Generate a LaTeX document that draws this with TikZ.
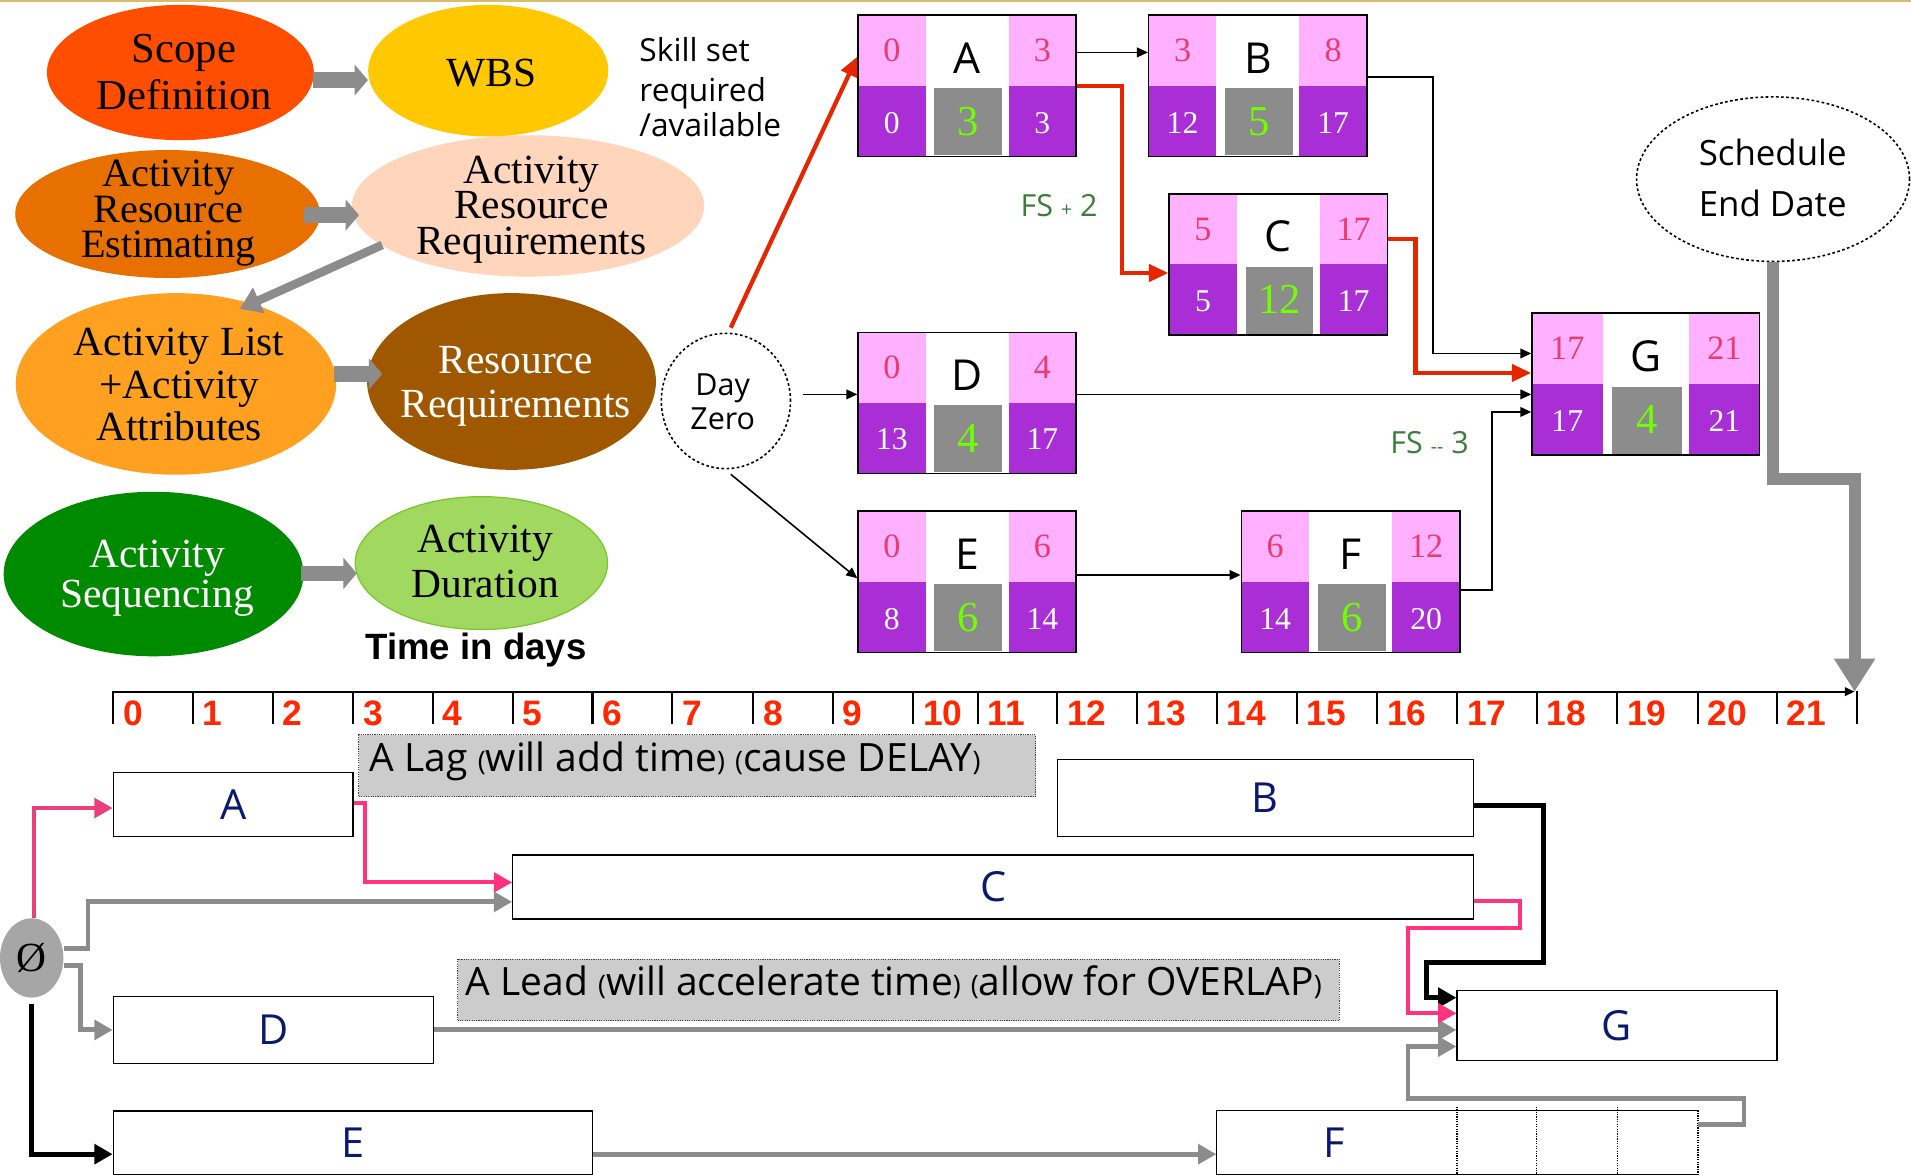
\documentclass[tikz,border=0pt]{standalone}
\usepackage{fontspec}
\setmainfont{Liberation Serif}
\newfontfamily\hsans{Open Sans}
\newfontfamily\asans{Liberation Sans}
\usetikzlibrary{shapes.geometric,arrows.meta,calc}

\newcommand\fsz[2]{\fontsize{#1}{#2}\selectfont\lineskiplimit=-60pt}
\newcommand\smallparen[1]{\raisebox{0.5pt}{\fsz{22}{22}#1}}

\definecolor{scopeC}{RGB}{255,78,0}
\definecolor{wbsC}{RGB}{255,200,0}
\definecolor{areC}{RGB}{232,112,0}
\definecolor{arrC}{RGB}{255,213,187}
\definecolor{alC}{RGB}{255,160,32}
\definecolor{rrC}{RGB}{160,88,0}
\definecolor{asC}{RGB}{0,138,0}
\definecolor{adC}{RGB}{160,216,96}
\definecolor{adEdge}{RGB}{120,200,40}
\definecolor{blockgray}{RGB}{140,140,140}
\definecolor{cellpink}{RGB}{255,176,255}
\definecolor{cellpurple}{RGB}{170,46,214}
\definecolor{numpink}{RGB}{232,60,110}
\definecolor{durgreen}{RGB}{110,255,0}
\definecolor{critred}{RGB}{230,38,0}
\definecolor{fsgreen}{RGB}{60,125,60}
\definecolor{daynum}{RGB}{255,40,0}
\definecolor{lagpink}{RGB}{255,51,128}
\definecolor{startpink}{RGB}{232,64,120}
\definecolor{barnavy}{RGB}{10,25,110}
\definecolor{notegray}{RGB}{204,204,204}
\definecolor{zerogray}{RGB}{166,166,166}
\definecolor{rulegold}{RGB}{214,190,110}

\tikzset{
  bubble/.style={ellipse, inner sep=0pt},
  btext/.style={inner sep=0pt, align=center},
  blockarrow/.style={draw=blockgray, line width=13pt, -{Triangle[length=11pt,width=25pt]}},
  netarrow/.style={draw=black, line width=1.3pt, -{Triangle[length=9pt,width=8pt]}},
  critpath/.style={draw=critred, line width=3.5pt, -{Triangle[length=16pt,width=14pt]}},
  bigarrow/.style={draw=blockgray, line width=10pt, -{Triangle[length=27pt,width=32pt]}},
  esnum/.style={anchor=base, inner sep=0pt, text=numpink, font=\fsz{28}{28}},
  lsnum/.style={anchor=base, inner sep=0pt, text=white, font=\fsz{26}{26}},
  durnum/.style={anchor=base, inner sep=0pt, text=durgreen, font=\fsz{35}{35}},
  actlet/.style={anchor=base, inner sep=0pt, font=\hsans\fsz{35}{35}},
  fslabel/.style={inner sep=0pt, text=fsgreen, font=\hsans\fsz{25}{25}},
  daylabel/.style={anchor=base west, inner sep=0pt, text=daynum, font=\asans\bfseries\fsz{29}{29}},
  bar/.style={draw, line width=1pt, fill=white, inner sep=0pt, text=barnavy, font=\hsans\fsz{34}{34}},
  notebox/.style={fill=notegray, draw=black!75, densely dotted, line width=0.9pt, inner sep=0pt},
  notetext/.style={anchor=base west, inner sep=0pt, font=\hsans\fsz{32}{32}},
  pinkarrow/.style={draw=lagpink, line width=3.3pt, -{Triangle[length=15pt,width=16pt]}},
  grayarrow/.style={draw=blockgray, line width=4pt, -{Triangle[length=15pt,width=16pt]}},
  blackarrow/.style={draw=black, line width=4pt, -{Triangle[length=15pt,width=16pt]}},
}

\begin{document}
\begin{tikzpicture}[x=1pt,y=-1pt,line join=miter]
\useasboundingbox (0,0) rectangle (1568,964);
\fill[white] (0,0) rectangle (1568,964);
\draw[rulegold, line width=1.6pt] (0,0.8) -- (1568,0.8);

% ---------- process bubbles ----------
\node[bubble, fill=scopeC, minimum width=219pt, minimum height=111pt] (scope) at (148,59.5) {};
\node[btext, font=\fsz{35}{39}] (scope-t) at (151,59) {Scope\\Definition};
\node[bubble, fill=wbsC, minimum width=197pt, minimum height=108pt] (wbs) at (400.6,58) {};
\node[btext, font=\fsz{34}{34}] (wbs-t) at (403,60) {WBS};
\node[bubble, fill=areC, minimum width=250pt, minimum height=105pt] (are) at (137.5,175.6) {};
\node[btext, font=\fsz{33}{29}] (are-t) at (138,175) {Activity\\Resource\\Estimating};
\node[bubble, fill=arrC, minimum width=289pt, minimum height=116pt] (arr) at (433.3,169) {};
\node[btext, font=\fsz{34}{29}] (arr-t) at (436,172) {Activity\\Resource\\Requirements};
\node[bubble, fill=alC, minimum width=263pt, minimum height=149pt] (al) at (144.4,315) {};
\node[btext, font=\fsz{34}{35}] (al-t) at (147,315.5) {Activity List\\+Activity\\Attributes};
\node[bubble, fill=rrC, minimum width=237pt, minimum height=145pt] (rr) at (419.7,313) {};
\node[btext, text=white, font=\fsz{34}{35.5}] (rr-t) at (423,317) {Resource\\Requirements};
\node[bubble, fill=asC, minimum width=246pt, minimum height=135pt] (as) at (126,471) {};
\node[btext, text=white, font=\fsz{34}{33}] (as-t) at (129,474.5) {Activity\\Sequencing};
\node[bubble, fill=adC, draw=adEdge, line width=1pt, minimum width=207pt, minimum height=109pt] (ad) at (395,462) {};
\node[btext, font=\fsz{34}{37}] (ad-t) at (398,460.5) {Activity\\Duration};

\draw[blockarrow] ($(scope.east)+(-1,6.2)$) -- ($(wbs.west)+(0,7.7)$);
\draw[blockarrow] ($(are.east)+(-13,0.9)$) -- ($(arr.west)+(6,7.5)$);
\draw[draw=blockgray, line width=7pt, -{Triangle[length=17pt,width=22pt]}] ($(arr.west)+(25,32)$) -- ($(al.north)+(52.4,13.1)$);
\draw[blockarrow] ($(al.east)+(-2,-8.2)$) -- ($(rr.west)+(12.6,-6.2)$);
\draw[blockarrow] ($(as.east)+(-2,-0.5)$) -- ($(ad.west)+(1.8,8.5)$);

\node[anchor=base, inner sep=0pt, font=\asans\bfseries\fsz{30}{30}] (tid) at (390.6,541.5) {Time in days};

\node[anchor=base west, inner sep=0pt, font=\hsans\fsz{26}{26}] (skill1) at (524.5,50.6) {Skill set};
\node[anchor=base west, inner sep=0pt, font=\hsans\fsz{26}{26}] (skill2) at (524.5,83.4) {required};
\node[anchor=base west, inner sep=0pt, font=\hsans\fsz{26}{26}] (skill3) at (524.5,112) {/available};

% ---------- network of activities ----------
\node[ellipse, draw, dash pattern=on 2.2pt off 2pt, line width=1.3pt, minimum width=106pt, minimum height=111pt, inner sep=0pt] (dz) at (595.6,329) {};
\node[btext, font=\hsans\fsz{25}{27.5}] (dz-t) at (593,329.5) {Day\\Zero};
\node[ellipse, draw, dash pattern=on 2.2pt off 2pt, line width=1.3pt, minimum width=224pt, minimum height=135pt, inner sep=0pt] (sed) at (1454.8,147) {};
\node[btext, font=\hsans\fsz{28.6}{42.4}] (sed-t) at (1454.5,146) {Schedule\\End Date};

\foreach \bN/\bXa/\bYa/\bXb/\bYb/\bES/\bLT/\bEF/\bLS/\bDU/\bLF in {
  nA/704/12.3/883/128.5/0/A/3/0/3/3,
  nB/942.5/12.3/1121.7/128.5/3/B/8/12/5/17,
  nC/959.3/159/1138.4/274.8/5/C/17/5/12/17,
  nD/704/272.6/883/388.3/0/D/4/13/4/17,
  nE/704/419.3/883/535.5/0/E/6/8/6/14,
  nF/1018.5/419.3/1198/535.5/6/F/12/14/6/20,
  nG/1257/257/1443.8/373.3/17/G/21/17/4/21}{
  \pgfmathsetmacro\bW{\bXb-\bXa}
  \pgfmathsetmacro\bH{\bYb-\bYa}
  \pgfmathsetmacro\bYm{\bYa+0.5*\bH}
  \pgfmathsetmacro\bXl{\bXa+0.31*\bW}
  \pgfmathsetmacro\bXr{\bXa+0.69*\bW}
  \pgfmathsetmacro\bGl{\bXa+0.35*\bW}
  \pgfmathsetmacro\bGr{\bXa+0.66*\bW}
  \pgfmathsetmacro\bCx{(\bXa+\bXb)/2}
  \pgfmathsetmacro\bCy{(\bYa+\bYb)/2}
  \fill[cellpink] (\bXa,\bYa) rectangle (\bXl,\bYm);
  \fill[cellpink] (\bXr,\bYa) rectangle (\bXb,\bYm);
  \fill[cellpurple] (\bXa,\bYm) rectangle (\bXl,\bYb);
  \fill[cellpurple] (\bXr,\bYm) rectangle (\bXb,\bYb);
  \fill[blockgray] (\bGl,\bYm+2) rectangle (\bGr,\bYb-1);
  \node[draw, line width=1.2pt, inner sep=0pt, minimum width=\bW pt, minimum height=\bH pt] (\bN) at (\bCx,\bCy) {};
  \node[esnum] (\bN-es) at ({(\bXa+\bXl)/2},{\bYa+0.33*\bH}) {\bES};
  \node[actlet] (\bN-id) at (\bCx,{\bYa+0.41*\bH}) {\bLT};
  \node[esnum] (\bN-ef) at ({(\bXr+\bXb)/2},{\bYa+0.33*\bH}) {\bEF};
  \node[lsnum] (\bN-ls) at ({(\bXa+\bXl)/2},{\bYa+0.835*\bH}) {\bLS};
  \node[durnum] (\bN-du) at ({(\bGl+\bGr)/2},{\bYa+0.85*\bH}) {\bDU};
  \node[lsnum] (\bN-lf) at ({(\bXr+\bXb)/2},{\bYa+0.835*\bH}) {\bLF};
}

\node[fslabel] (fs2) at (869,169) {FS {\fsz{16}{16}+} 2};
\node[fslabel] (fs3) at (1173,363) {FS {\fsz{16}{16}--} 3};

\draw[critpath] ($(dz.north)+(4,-4)$) -- (nA.west |- 0,46.5);
\draw[netarrow] ($(dz.east)+(10,-5.4)$) -- (nD.west |- 0,323.6);
\draw[netarrow] ($(dz.south)+(4,4)$) -- (nE.west |- 0,474.5);
\draw[netarrow] (nA.east |- 0,43) -- (nB.west |- 0,43);
\draw[critpath] (nA.east |- 0,70.6) -| (920.5,224) -- (nC.west |- 0,224);
\draw[netarrow] (nB.east |- 0,63) -| (1176,290) -- (nG.west |- 0,290);
\draw[critpath] (nC.east |- 0,196) -| (1161.5,306) -- (nG.west |- 0,306);
\draw[netarrow] (nD.east |- 0,323.6) -- (nG.west |- 0,323.6);
\draw[netarrow] (nE.east |- 0,471.8) -- (nF.west |- 0,471.8);
\draw[netarrow] (nF.east |- 0,484) -| (1224,338) -- (nG.west |- 0,338);

% ---------- time scale ----------
\coordinate (tlstart) at (92.9,567.5);
\coordinate (tlend) at (1521.7,567.5);
\draw[line width=1.6pt, -{Triangle[length=8pt,width=7pt]}] (tlstart) -- (tlend);
\foreach \tx [count=\ti from 0] in {92.9,158.2,223.8,289.7,355,420.6,486.2,551.5,618,683.2,749.4,802.2,867.5,932.6,998.5,1064,1130,1195.5,1261,1327,1393,1458,1523.8}{
  \draw[line width=1.8pt] (\tx,566.7) -- (\tx,594);
  \ifnum\ti<22 \node[daylabel] (day\ti) at (\tx+8,595) {\ti};\fi
}
\draw[bigarrow] (sed.south) -- (sed.south |- 0,393) -| (tlend);

% ---------- bar chart ----------
\node[notebox, minimum width=555.3pt, minimum height=50.6pt] (lag) at (572.15,628.3) {};
\node[notetext] (lag-t) at (303,633) {A Lag \smallparen{(}will add time\smallparen{)} \smallparen{(}cause DELAY\smallparen{)}};
\node[notebox, minimum width=723.5pt, minimum height=50.4pt] (lead) at (737.25,812.2) {};
\node[notetext] (lead-t) at (381.7,816.5) {A Lead \smallparen{(}will accelerate time\smallparen{)} \smallparen{(}allow for OVERLAP\smallparen{)}};

\node[bar, minimum width=196.8pt, minimum height=52.5pt] (gA) at (191.3,660.25) {A};
\node[bar, minimum width=341.5pt, minimum height=63.5pt] (gB) at (1038.25,654.75) {B};
\node[bar, minimum width=788.3pt, minimum height=52.4pt] (gC) at (814.85,727.8) {C};
\node[bar, minimum width=262.9pt, minimum height=54.7pt] (gD) at (224.35,845.05) {D};
\node[bar, minimum width=393.5pt, minimum height=51.9pt] (gE) at (289.65,937.55) {E};
\node[bar, draw=none, minimum width=394.3pt, minimum height=51.9pt] (gF) at (1195.65,937.55) {};
\draw[line width=1pt] (gF.south west) -- (gF.north west) -- (gF.north east);
\draw[line width=1pt] (gF.south west) -- (gF.south east);
\draw[densely dotted, line width=1pt] (gF.north east) -- (gF.south east);
\foreach \dx in {1195.5,1261,1327}{\draw[densely dotted, line width=1pt] (\dx,908) -- (\dx,963);}
\node[inner sep=0pt, text=barnavy, font=\hsans\fsz{34}{34}] (gF-t) at (1095,937.5) {F};
\node[bar, minimum width=262.5pt, minimum height=57pt] (gG) at (1326.75,841.5) {G};

\node[ellipse, fill=zerogray, minimum width=52pt, minimum height=65pt, inner sep=0pt, font=\fsz{34}{34}] (zero) at (26,786) {Ø};

\draw[pinkarrow, draw=startpink] ($(zero.north)+(2,0)$) |- (gA.west |- 0,663);
\draw[pinkarrow] (gA.east |- 0,659) -- ++(9,0) |- (gC.west |- 0,724);
\draw[grayarrow] (zero.east |- 0,778.6) -- ++(20,0) |- (gC.west |- 0,740);
\draw[grayarrow] (zero.east |- 0,792.3) -- ++(13.7,0) |- (gD.west);
\draw[blackarrow] ($(zero.south)+(0,5)$) |- (gE.west |- 0,947);
\draw[grayarrow] (gD.east) -- (gG.west |- gD.east);
\draw[grayarrow] (gE.east |- 0,947) -- (gF.west |- 0,947);
\draw[blackarrow] (gB.east |- 0,661) -| (1266.5,790) -| (1170.6,818.6) -- (gG.west |- 0,818.6);
\draw[pinkarrow] (gC.east |- 0,739.5) -| (1247,761.6) -| (1155.3,831.4) -- (gG.west |- 0,831.4);
\draw[grayarrow] (gF.east |- 0,923) -| (1431,901) -| (1155.3,858.7) -- (gG.west |- 0,858.7);
\end{tikzpicture}
\end{document}
